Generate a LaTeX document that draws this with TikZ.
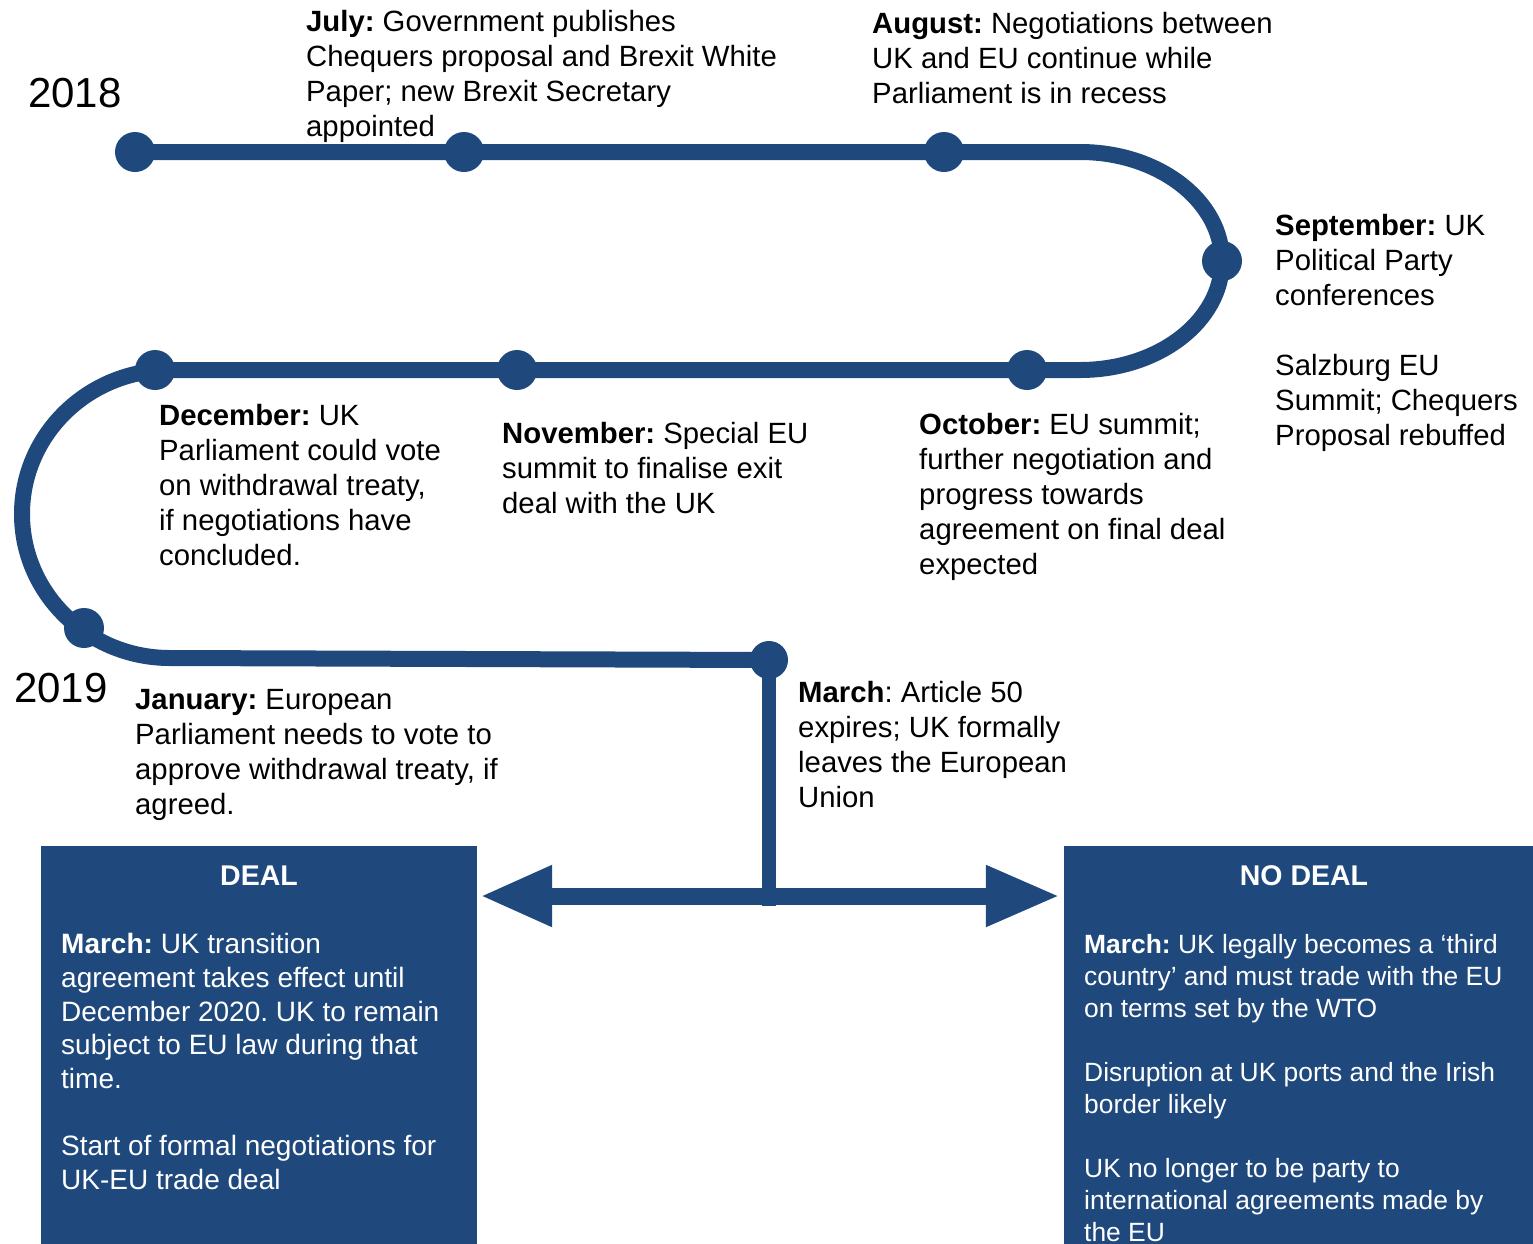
\documentclass[tikz,border=0pt]{standalone}
\usepackage{fontspec}
\setmainfont{Liberation Sans}
\usetikzlibrary{arrows.meta}
\definecolor{ukblue}{HTML}{1F497D}
\frenchspacing

\tikzset{
	tline/.style={draw=ukblue, line width=16pt},
	dot/.style={circle, fill=ukblue, inner sep=0pt, minimum size=40pt},
	event/.style={anchor=base west, align=left, inner sep=0pt, font=\fontsize{29.3}{35}\selectfont},
	year/.style={anchor=base west, inner sep=0pt, font=\fontsize{42}{50}\selectfont},
	outcome/.style={rectangle, fill=ukblue, inner sep=0pt},
	heading/.style={anchor=base, inner sep=0pt, text=white, font=\bfseries\fontsize{28.5}{34}\selectfont},
	dealtext/.style={anchor=base west, align=left, inner sep=0pt, text=white, font=\fontsize{28}{33.6}\selectfont},
	nodealtext/.style={dealtext, font=\fontsize{26.4}{32}\selectfont}
}

\begin{document}
\begin{tikzpicture}[x=1pt, y=-1pt]
				\path[use as bounding box, fill=white] (0,0) rectangle (1533,1243);
				
				% Dots
				\node (start) [dot] at (135,152) {};
				\node (jul) [dot] at (464,152) {};
				\node (aug) [dot] at (944,152) {};
				\node (sep) [dot] at (1222,261) {};
				\node (oct) [dot] at (1027,370) {};
				\node (nov) [dot] at (517,370) {};
				\node (dec) [dot] at (155,370) {};
				\node (jan) [dot] at (84,628) {};
				\node (mar) [dot, minimum size=38pt] at (769,660) {};
				\coordinate (ne) at (1080,152);
				\coordinate (nw) at (170,370);
				\coordinate (split) at (769,896);
				
				% Timeline
				\draw[tline] (start.center) -- (jul.center) -- (aug.center) -- (ne)
					arc[start angle=90, end angle=-90, x radius=142pt, y radius=109pt]
					-- (oct.center) -- (nov.center) -- (dec.center) -- (nw)
					arc[start angle=90, end angle=270, x radius=148pt, y radius=144pt]
					-- (mar.center);
				
				% Labels (placed at the baseline of their last line)
				\node (y2018) [year] at (28,107) {2018};
				\node (y2019) [year] at (14,702) {2019};
				\node (txtjul) [event] at (306,136) {\textbf{July:} Government publishes\\Chequers proposal and Brexit White\\Paper; new Brexit Secretary\\appointed};
				\node (txtaug) [event] at (872,103) {\textbf{August:} Negotiations between\\UK and EU continue while\\Parliament is in recess};
				\node (txtsep) [event] at (1275,445) {\textbf{September:} UK\\Political Party\\conferences\\[35pt]Salzburg EU\\Summit; Chequers\\Proposal rebuffed};
				\node (txtoct) [event] at (919,574) {\textbf{October:} EU summit;\\further negotiation and\\progress towards\\agreement on final deal\\expected};
				\node (txtnov) [event] at (502,513) {\textbf{November:} Special EU\\summit to finalise exit\\deal with the UK};
				\node (txtdec) [event] at (159,565) {\textbf{December:} UK\\Parliament could vote\\on withdrawal treaty,\\if negotiations have\\concluded.};
				\node (txtjan) [event] at (135,814) {\textbf{January:} European\\Parliament needs to vote to\\approve withdrawal treaty, if\\agreed.};
				\node (txtmar) [event] at (798,807) {\textbf{March}: Article 50\\expires; UK formally\\leaves the European\\Union};
				
				% Outcomes
				\node (deal) [outcome, minimum width=436pt, minimum height=404pt] at (259,1048) {};
				\node (nodeal) [outcome, minimum width=480pt, minimum height=404pt] at (1304,1048) {};
				\node (dealhead) [heading] at (259,885) {DEAL};
				\node (nodealhead) [heading] at (1304,885) {NO DEAL};
				\node (dealbody) [dealtext] at (61,1189) {\textbf{March:} UK transition\\agreement takes effect until\\December 2020. UK to remain\\subject to EU law during that\\time.\\[33.6pt]Start of formal negotiations for\\UK-EU trade deal};
				\node (nodealbody) [nodealtext] at (1084,1241) {\textbf{March:} UK legally becomes a ‘third\\country’ and must trade with the EU\\on terms set by the WTO\\[32pt]Disruption at UK ports and the Irish\\border likely\\[32pt]UK no longer to be party to\\international agreements made by\\the EU};
				
				% Arrows
				\coordinate (dealtip) at (deal.east |- split);
				\coordinate (nodealtip) at (nodeal.west |- split);
				\draw[ukblue, line width=14pt] (mar.center) -- ([yshift=-10pt]split);
				\draw[ukblue, line width=17pt, {Triangle[length=72pt,width=57pt]}-{Triangle[length=74pt,width=57pt]}] ([xshift=3pt]dealtip) -- ([xshift=-4pt]nodealtip);
			\end{tikzpicture}
\end{document}
